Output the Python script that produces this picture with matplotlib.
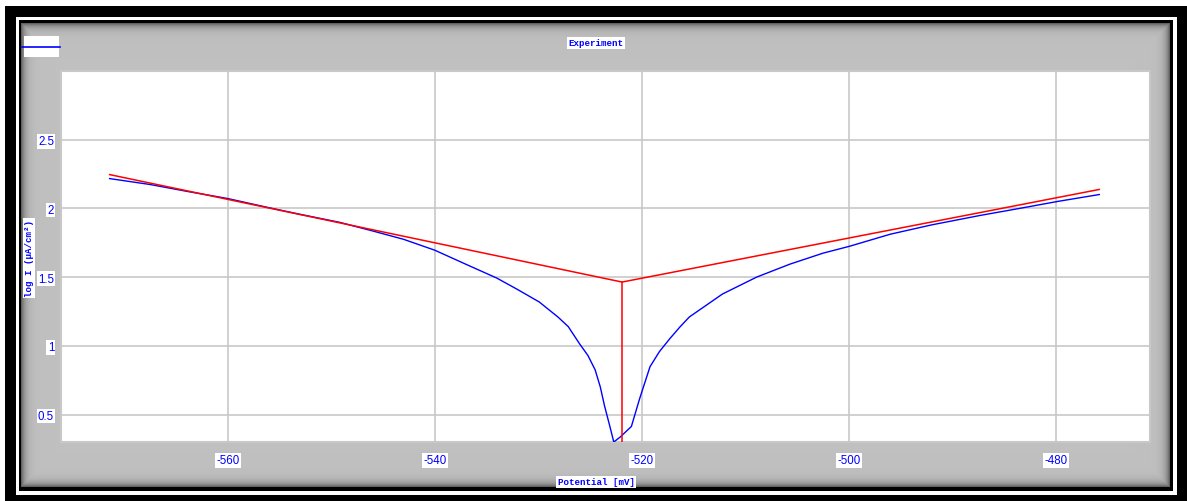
import numpy as np
import matplotlib
matplotlib.use('Agg')
import matplotlib.pyplot as plt
from matplotlib.patches import Rectangle
from matplotlib.lines import Line2D

# Measured polarisation curve (Potential in mV, log I in uA/cm2)
potential = [-571.4, -567.5, -564.0, -560.0, -556.0, -553.0, -549.2, -546.0, -543.0, -540.0,
             -537.0, -534.0, -532.0, -529.9, -528.1, -527.1, -526.0, -525.2, -524.5, -524.0,
             -523.6, -523.1, -522.7, -522.1, -521.0, -520.2, -519.2, -518.3, -517.3, -516.3,
             -515.4, -512.2, -508.9, -505.7, -502.5, -499.9, -496.0, -492.0, -487.3, -483.5,
             -479.8, -475.8]
log_i = [2.217, 2.174, 2.125, 2.072, 2.005, 1.957, 1.899, 1.836, 1.775, 1.696,
         1.594, 1.493, 1.410, 1.319, 1.210, 1.140, 1.014, 0.930, 0.825, 0.700,
         0.565, 0.420, 0.300, 0.335, 0.413, 0.616, 0.848, 0.957, 1.051, 1.138,
         1.210, 1.377, 1.500, 1.594, 1.674, 1.725, 1.812, 1.880, 1.949, 2.000,
         2.051, 2.101]

# Tafel fit lines
tafel_x = [-571.4, -521.9, -475.8]
tafel_y = [2.246, 1.464, 2.138]
e_corr = -521.9

x_ticks = [-560, -540, -520, -500, -480]
y_ticks = [0.5, 1, 1.5, 2, 2.5]
x_limits = (-576.1, -470.9)
y_limits = (0.3, 3.0)

W, H = 1187, 502
fig = plt.figure(figsize=(W / 100, H / 100), dpi=100)
fig.patch.set_facecolor('white')

# background frame drawn in pixel coordinates
bg = fig.add_axes([0, 0, 1, 1])
bg.set_xlim(0, W)
bg.set_ylim(H, 0)
bg.axis('off')
bg.add_patch(Rectangle((5, 7), W - 5, H - 7, facecolor='black', edgecolor='none'))
bg.add_patch(Rectangle((16, 18), 1177 - 16, 496 - 18, facecolor='white', edgecolor='none'))
bg.add_patch(Rectangle((19, 21), 1173 - 19, 492 - 21, facecolor='black', edgecolor='none'))

# grey panel with shaded edges
px0, px1, py0, py1 = 21, 1170, 24, 488
xx = np.arange(px0, px1) + 0.5
yy = np.arange(py0, py1) + 0.5
dx = np.minimum(xx - px0, px1 - xx)
dy = np.minimum(yy - py0, py1 - yy)
d = np.minimum(dx[None, :], dy[:, None])
shade = 0.753 - 0.42 * np.exp(-d / 4.0)
img = np.dstack([shade, shade, shade])
bg.imshow(img, extent=(px0, px1, py1, py0), aspect='auto', interpolation='bilinear', zorder=1)
bg.set_xlim(0, W)
bg.set_ylim(H, 0)

# legend swatch
bg.add_patch(Rectangle((24, 37), 35, 21, facecolor='white', edgecolor='none', zorder=2))
bg.add_line(Line2D([22, 60], [48, 48], color='#0000ff', lw=1.2, zorder=3))

label_font = dict(family='Liberation Mono', fontweight='bold', fontsize=6.6, color='#0000ff')
box = dict(facecolor='white', edgecolor='none', pad=1.2)
bg.text(596, 44, 'Experiment', ha='center', va='center', bbox=box, zorder=3, **label_font)
bg.text(596, 483, 'Potential [mV]', ha='center', va='center', bbox=box, zorder=3, **label_font)
bg.text(29, 259, 'log I (µA/cm²)', ha='center', va='center', rotation=90, bbox=box, zorder=3, **label_font)

# main plot area
ax = fig.add_axes([61 / W, 1 - 443 / H, (1150 - 61) / W, (443 - 72) / H])
ax.set_facecolor('white')
ax.plot(potential, log_i, color='#0000ff', lw=1.0, zorder=3)
ax.plot(tafel_x, tafel_y, color='#ff0000', lw=1.1, zorder=4)
ax.plot([e_corr, e_corr], [y_limits[0], tafel_y[1]], color='#ff0000', lw=1.1, zorder=4)

ax.set_xlim(*x_limits)
ax.set_ylim(*y_limits)
ax.set_xticks(x_ticks)
ax.set_xticklabels([str(v) for v in x_ticks])
ax.set_yticks(y_ticks)
ax.set_yticklabels(['0.5', '1', '1.5', '2', '2.5'])
ax.tick_params(length=0, labelsize=8.3, labelcolor='#0000ff')
ax.tick_params(axis='x', pad=9)
ax.tick_params(axis='y', pad=5)
for lab in ax.get_xticklabels() + ax.get_yticklabels():
    lab.set_family('Liberation Sans')
    lab.set_bbox(dict(facecolor='white', edgecolor='none', pad=1))

ax.grid(True, color='#c8c8c8', lw=1.2)
ax.set_axisbelow(True)
for spine in ax.spines.values():
    spine.set_edgecolor('#c8c8c8')
    spine.set_linewidth(1.5)

fig.savefig('out.png', dpi=100)
